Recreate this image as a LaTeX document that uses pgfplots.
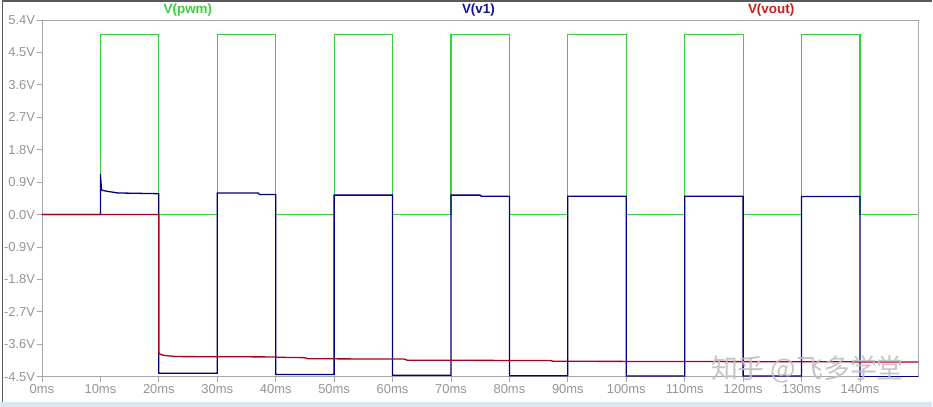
\documentclass[border=0pt]{standalone}
\usepackage{pgfplots}
\pgfplotsset{compat=1.18}
\usepackage{fontspec}
\setmainfont{Liberation Sans}
\newfontfamily\cjk{Noto Sans CJK SC}

\definecolor{pwmgreen}{HTML}{3CCF3C}
\definecolor{vonenavy}{HTML}{000080}
\definecolor{voutred}{HTML}{A8001E}
\definecolor{ticklbl}{HTML}{959595}
\definecolor{framegray}{HTML}{A6A6A6}
\definecolor{winblue}{HTML}{DCE6F0}
\definecolor{titleblue}{HTML}{141496}
\definecolor{titlered}{HTML}{C81E1E}

\begin{document}
\begin{tikzpicture}
% picture area: 933 x 407 bp, axis box 877 x 357 bp at (42,30) from lower left
\fill[white] (-42bp,-30bp) rectangle (891bp,377bp);
\fill[winblue] (-42bp,-30bp) rectangle (891bp,-25bp);
\draw[gray!70!black, line width=1.2bp] (-39.5bp,-25bp) -- (-39.5bp,376bp) -- (891bp,376bp);
\begin{axis}[
    at={(0,0)}, anchor=south west,
    scale only axis,
    width=877bp, height=357bp,
    xmin=0, xmax=150,
    ymin=-4.5, ymax=5.4,
    axis line style={framegray, line width=0.9bp},
    tick style={framegray, line width=0.9bp},
    major tick length=5bp,
    tick align=outside,
    xtick pos=bottom, ytick pos=left,
    xtick={0,10,...,140},
    xticklabels={0ms,10ms,20ms,30ms,40ms,50ms,60ms,70ms,80ms,90ms,100ms,110ms,120ms,130ms,140ms},
    ytick={-4.5,-3.6,-2.7,-1.8,-0.9,0,0.9,1.8,2.7,3.6,4.5,5.4},
    yticklabels={-4.5V,-3.6V,-2.7V,-1.8V,-0.9V,0.0V,0.9V,1.8V,2.7V,3.6V,4.5V,5.4V},
    ticklabel style={font=\fontsize{13}{15}\selectfont, text=ticklbl},
    yticklabel style={xshift=1.5bp},
    xticklabel style={yshift=1bp},
    clip mode=individual,
]
% V(pwm)
\addplot[pwmgreen, line width=1.2bp] coordinates {
    (0,0) (10,0) (10,5) (20,5) (20,0) (30,0) (30,5) (40,5) (40,0)
    (50,0) (50,5) (60,5) (60,0) (70,0) (70,5) (80,5) (80,0)
    (90,0) (90,5) (100,5) (100,0) (110,0) (110,5) (120,5) (120,0)
    (130,0) (130,5) (140,5) (140,0) (150,0)
};
% V(v1)
\addplot[vonenavy, line width=1.3bp] coordinates {
    (0,0) (10,0) (10,1.12) (10.2,0.68) (11,0.65) (13,0.60) (20,0.58)
    (20,-4.40) (30,-4.40) (30,0.60) (37,0.60) (37.2,0.56) (40,0.56)
    (40,-4.44) (50,-4.44) (50,0.54) (60,0.54) (60,-4.46) (70,-4.46)
    (70,0.54) (75,0.54) (75.2,0.51) (80,0.51) (80,-4.47) (90,-4.47)
    (90,0.51) (100,0.51) (100,-4.48) (110,-4.48) (110,0.51) (120,0.51)
    (120,-4.48) (130,-4.48) (130,0.50) (140,0.50) (140,-4.50) (150,-4.50)
};
% V(vout)
\addplot[voutred, line width=1.3bp] coordinates {
    (0,0) (20,0) (20,-3.84) (20.3,-3.88) (21,-3.91) (23,-3.94) (40,-3.95)
    (40.5,-3.96) (45,-3.97) (45.5,-4.00) (62,-4.01) (62.5,-4.04)
    (87,-4.05) (87.5,-4.07) (150,-4.09)
};
\node[text=pwmgreen, font=\bfseries\fontsize{13.5}{15}\selectfont] at (rel axis cs:0.1665,1) [yshift=9.5bp] {V(pwm)};
\node[text=titleblue, font=\bfseries\fontsize{13.5}{15}\selectfont] at (rel axis cs:0.498,1) [yshift=9.5bp] {V(v1)};
\node[text=titlered, font=\bfseries\fontsize{13.5}{15}\selectfont] at (rel axis cs:0.832,1) [yshift=9.5bp] {V(vout)};
\end{axis}
% watermark
\node[text=gray!50, opacity=0.9, font=\cjk\fontsize{27}{29}\selectfont, inner sep=0pt] at (766bp,7bp) {知乎 @飞多学堂};
\end{tikzpicture}
\end{document}
